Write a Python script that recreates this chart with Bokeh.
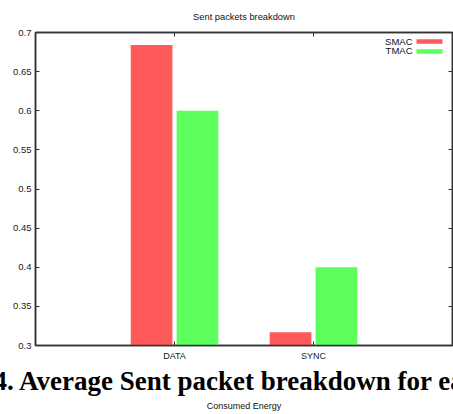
from bokeh.plotting import figure
from bokeh.models import (FactorRange, Range1d, FixedTicker, NumeralTickFormatter, LinearAxis,
                          CategoricalAxis, CustomJSTickFormatter, Label, BoxAnnotation,
                          ColumnDataSource, Title)
from bokeh.transform import dodge
from bokeh.embed import file_html
from bokeh.resources import INLINE

# ---- data ----
categories = ["DATA", "SYNC"]
smac = [0.684, 0.317]
tmac = [0.600, 0.400]
y_ticks = [0.3, 0.35, 0.4, 0.45, 0.5, 0.55, 0.6, 0.65, 0.7]
series_names = ["SMAC", "TMAC"]
colors = ["#ff5a5a", "#5cff5c"]

title_text = "Sent packets breakdown"
caption_text = "4. Average Sent packet breakdown for ea"
next_title_text = "Consumed Energy"

src = ColumnDataSource(dict(cat=categories, smac=smac, tmac=tmac))

AX = "#333333"
FONT = "Liberation Sans"

p = figure(width=453, height=414,
           x_range=FactorRange(*categories, range_padding=0.5, range_padding_units="absolute"),
           y_range=Range1d(0.3, 0.7),
           output_backend="svg", toolbar_location=None,
           min_border_left=35, min_border_right=1, min_border_top=32, min_border_bottom=69)

p.xgrid.visible = False
p.ygrid.visible = False
p.outline_line_color = AX
p.outline_line_width = 1.5
p.background_fill_color = "white"
p.border_fill_color = "white"

p.vbar(x=dodge("cat", -0.165, range=p.x_range), top="smac", bottom=0, width=0.30,
       source=src, fill_color=colors[0], line_color=None)
p.vbar(x=dodge("cat", 0.165, range=p.x_range), top="tmac", bottom=0, width=0.30,
       source=src, fill_color=colors[1], line_color=None)

# left axis
ya = p.yaxis[0]
ya.ticker = FixedTicker(ticks=y_ticks)
ya.formatter = NumeralTickFormatter(format="0.[00]")
ya.major_tick_in = 4
ya.major_tick_out = 0
ya.minor_tick_line_color = None
ya.axis_line_color = AX
ya.axis_line_width = 1.5
ya.major_tick_line_color = AX
ya.major_label_text_font = FONT
ya.major_label_text_font_size = "9.5px"
ya.major_label_text_color = "#222222"
ya.major_label_standoff = 4

# bottom axis
xa = p.xaxis[0]
xa.major_tick_in = 4
xa.major_tick_out = 0
xa.axis_line_color = AX
xa.axis_line_width = 1.5
xa.major_tick_line_color = AX
xa.major_label_text_font = FONT
xa.major_label_text_font_size = "9px"
xa.major_label_text_color = "#222222"
xa.major_label_standoff = 5

blank = CustomJSTickFormatter(code="return ''")
ra = LinearAxis(ticker=FixedTicker(ticks=y_ticks), formatter=blank, major_tick_in=4, major_tick_out=0,
                minor_tick_line_color=None, axis_line_color=AX, axis_line_width=1.5,
                major_tick_line_color=AX, major_label_standoff=0, major_label_text_font_size="1px")
p.add_layout(ra, "right")
ta = CategoricalAxis(major_tick_in=4, major_tick_out=0, axis_line_color=AX, axis_line_width=1.5,
                     major_tick_line_color=AX, major_label_standoff=0, major_label_text_font_size="1px",
                     major_label_text_color=None)
p.add_layout(ta, "above")

# title
p.title.text = title_text
p.title.align = "center"
p.title.vertical_align = "top"
p.title.text_font = FONT
p.title.text_font_style = "normal"
p.title.text_font_size = "9.3px"
p.title.text_color = "#111111"
p.title.standoff = 18

# legend (gnuplot style: text left, swatch right), frame-relative screen units
text_y = [304.3, 295.3]
swatch_y = [304, 294]
for name, col, ty, sy in zip(series_names, colors, text_y, swatch_y):
    p.add_layout(Label(x=377, y=ty, x_units="screen", y_units="screen", text=name,
                       text_align="right", text_baseline="middle", text_font=FONT,
                       text_font_size="9.5px", text_color="#111111"))
    p.add_layout(BoxAnnotation(left=381, right=407, top=sy + 2.3, bottom=sy - 2.3,
                               left_units="screen", right_units="screen",
                               top_units="screen", bottom_units="screen",
                               fill_color=col, fill_alpha=1.0, line_color=None))

# caption and next figure title below
cap = Title(text=caption_text, align="left", offset=-42, vertical_align="bottom", standoff=0,
            text_font="Liberation Serif", text_font_style="bold", text_font_size="27px",
            text_color="#000000")
p.add_layout(cap, "below")
nxt = Title(text=next_title_text, align="center", offset=0, vertical_align="bottom", standoff=6,
            text_font=FONT, text_font_style="normal", text_font_size="9px", text_color="#111111")
p.add_layout(nxt, "below")

open("out.html", "w").write(file_html(p, INLINE))
